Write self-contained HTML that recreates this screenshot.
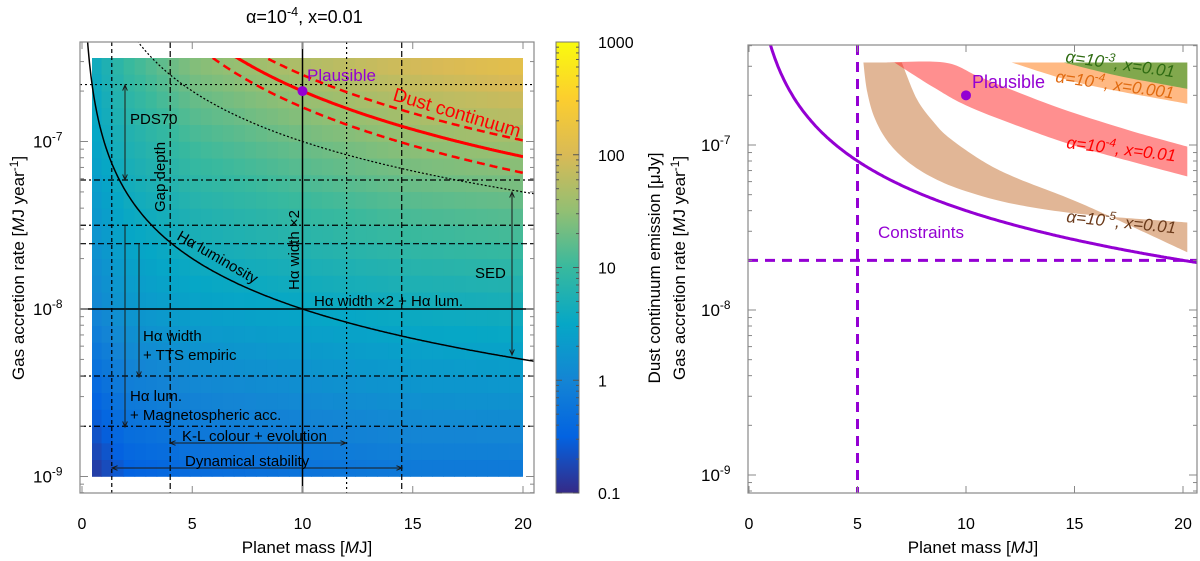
<!DOCTYPE html>
<html><head><meta charset="utf-8"><style>
html,body{margin:0;padding:0;background:#fff;}
svg{display:block;font-family:"Liberation Sans",sans-serif;}
</style></head><body>
<svg id="fig" width="1200" height="561" viewBox="0 0 1200 561" xmlns="http://www.w3.org/2000/svg">
<defs>
<clipPath id="clipL"><rect x="80" y="42" width="454" height="451"/></clipPath>
<clipPath id="clipR"><rect x="748" y="45" width="449" height="448"/></clipPath>
<clipPath id="clipHeat"><rect x="92" y="58" width="431" height="419"/></clipPath>
<linearGradient id="parula" x1="0" y1="1" x2="0" y2="0">
<stop offset="0" stop-color="#352A87"/><stop offset="0.125" stop-color="#0363E1"/>
<stop offset="0.25" stop-color="#1485D4"/><stop offset="0.375" stop-color="#06A7C6"/>
<stop offset="0.5" stop-color="#38B99E"/><stop offset="0.625" stop-color="#92BF73"/>
<stop offset="0.75" stop-color="#D9BA56"/><stop offset="0.875" stop-color="#FCCE2E"/>
<stop offset="1" stop-color="#F9FB0E"/>
</linearGradient>
</defs>
<g id="left"></g>
<g id="right"></g>
</svg>
<script>
// ---------- data ----------
const heatMasses = [0.5, 2, 5, 10, 15, 20];
const heatLogMdot = [-9, -8, -7, -6.5];
const heatRowM9 = [-0.9, -0.55, -0.4, -0.3, -0.2, -0.2];
const heatRowM8 = [0.0, 0.25, 0.4, 0.5, 0.6, 0.65];
const heatRowM7 = [0.45, 0.75, 1.05, 1.3, 1.5, 1.6];
const heatRowM65 = [0.6, 1.0, 1.45, 1.75, 2.0, 2.2];
const heatRows = [heatRowM9, heatRowM8, heatRowM7, heatRowM65];
const xTicks = [0, 5, 10, 15, 20];
const yDecades = [-9, -8, -7];
const cbTicks = ["0.1", "1", "10", "100", "1000"];
// curves Mdot = k * (M/mRef)^p
const haLumK = 1e-8, haLumP = -1;
const dottedK = 1e-7, dottedP = -1;
const dustK = [2.5e-7, 2e-7, 1.6e-7];
const dustP = -1.3;
const constraintK = 4e-8;
const vLines = [{m:1.35,d:"4,3"},{m:4.0,d:"6,3"},{m:12,d:"2,3"},{m:14.5,d:"6,3"}];
const hLines = [{l:-6.66,d:"2,3"},{l:-7.23,d:"6,3,2,3"},{l:-7.5,d:"6,3,2,3"},{l:-7.61,d:"6,3"},{l:-8.4,d:"6,3,2,3"},{l:-8.7,d:"6,3,2,3"}];
const plausibleM = 10, plausibleMdot = 2e-7;
const brownUpM = [5.27,5.45,5.8,6.4,7.3,8.5,10.0,12.3,15.4,20.2];
const brownUpL = [-6.5,-6.68,-6.84,-6.98,-7.1,-7.2,-7.28,-7.36,-7.42,-7.47];
const brownLoM = [7.04,7.73,8.5,9.26,10.8,12.33,15.4,20.2];
const brownLoL = [-6.5,-6.72,-6.86,-6.96,-7.1,-7.2,-7.36,-7.65];
const redUpM = [6.19,9.0,10.5,12.0,14.4,17.5,20.2];
const redUpL = [-6.5,-6.5,-6.58,-6.66,-6.78,-6.91,-7.01];
const redLoM = [6.7,8.5,10.0,12.3,15.4,20.2];
const redLoL = [-6.5,-6.65,-6.76,-6.88,-7.02,-7.19];
const orangeUpM = [12.1,20.2];
const orangeUpL = [-6.5,-6.5];
const orangeLoM = [12.1,15.4,20.2];
const orangeLoL = [-6.5,-6.63,-6.75];
const greenUpM = [14.5,20.2];
const greenUpL = [-6.5,-6.5];
const greenLoM = [14.5,17.0,20.2];
const greenLoL = [-6.5,-6.58,-6.66];
const constrM = 5, constrMdot = 2e-8;

// ---------- helpers ----------
const NS = "http://www.w3.org/2000/svg";
function mk(parent, tag, attrs, text){
  const e = document.createElementNS(NS, tag);
  for (const k in attrs) e.setAttribute(k, attrs[k]);
  if (text !== undefined) e.textContent = text;
  parent.appendChild(e); return e;
}
const parula = [[53,42,135],[3,99,225],[20,133,212],[6,167,198],[56,185,158],[146,191,115],[217,186,86],[252,206,46],[249,251,14]];
function cmap(t){
  t = Math.max(0, Math.min(1, t)); const s = t*8; const i = Math.min(7, Math.floor(s)); const f = s - i;
  const a = parula[i], b = parula[i+1];
  return "rgb(" + [0,1,2].map(j => Math.round(a[j]+(b[j]-a[j])*f)).join(",") + ")";
}
function interp1(xs, ys, x){
  if (x <= xs[0]) return ys[0];
  for (let i=1;i<xs.length;i++) if (x <= xs[i]) { const f=(x-xs[i-1])/(xs[i]-xs[i-1]); return ys[i-1]+(ys[i]-ys[i-1])*f; }
  return ys[ys.length-1];
}
function supText(g, x, y, base, sup, after, attrs, name){
  const t = mk(g, "text", Object.assign({x:x, y:y}, attrs));
  
  
  mk(t, "tspan", {}, base);
  mk(t, "tspan", {dy:-7, "font-size":"0.7em"}, sup);
  if (after) mk(t, "tspan", {dy:7}, after);
  return t;
}
function smoothPath(pts, move){
  // Catmull-Rom through points
  let d = (move?"M":"L")+pts[0][0].toFixed(1)+","+pts[0][1].toFixed(1);
  for (let i=0;i<pts.length-1;i++){
    const p0=pts[Math.max(0,i-1)], p1=pts[i], p2=pts[i+1], p3=pts[Math.min(pts.length-1,i+2)];
    const c1=[p1[0]+(p2[0]-p0[0])/6, p1[1]+(p2[1]-p0[1])/6];
    const c2=[p2[0]-(p3[0]-p1[0])/6, p2[1]-(p3[1]-p1[1])/6];
    d += "C"+c1.map(v=>v.toFixed(1)).join(",")+" "+c2.map(v=>v.toFixed(1)).join(",")+" "+p2.map(v=>v.toFixed(1)).join(",");
  }
  return d;
}

// ---------- LEFT ----------
const L = document.getElementById("left");
const XL = m => 82 + 22.05*m;
const YL = l => 309 - 167.5*(l+8);
const heat = mk(L, "g", {"clip-path":"url(#clipHeat)"});


for (let m=0.4; m<20.01; m+=0.5){
  for (let l=-9; l<-6.49; l+=0.1){
    const mc = m+0.25, lc = l+0.05;
    const col = heatRows.map(r => interp1(heatMasses, r, mc));
    const v = interp1(heatLogMdot, col, lc);
    const c = mk(heat, "rect", {x:XL(m)-0.3, y:YL(l+0.1)-0.3, width:22.05*0.5+0.6, height:16.75+0.6, fill:cmap((v+1)/4)});
    
    
  }
}
const lg = mk(L, "g", {"clip-path":"url(#clipL)", fill:"none"});
vLines.forEach(v=>{
  const e = mk(lg, "line", {x1:XL(v.m), x2:XL(v.m), y1:42, y2:493, stroke:"#000", "stroke-width":1.2, "stroke-dasharray":v.d});
  
  
});
hLines.forEach(h=>{
  const e = mk(lg, "line", {x1:80, x2:534, y1:YL(h.l), y2:YL(h.l), stroke:"#000", "stroke-width":1.2, "stroke-dasharray":h.d});
  
  
});
let e;
e = mk(lg, "line", {x1:XL(10), x2:XL(10), y1:42, y2:493, stroke:"#000", "stroke-width":1.5});
 
e = mk(lg, "line", {x1:80, x2:534, y1:YL(-8), y2:YL(-8), stroke:"#000", "stroke-width":1.5});
 
function curvePath(X, Y, k, p, m0, m1){
  let d = "";
  for (let i=0;i<=300;i++){ const m = m0+(m1-m0)*i/300; const l = Math.log10(k*Math.pow(m/10,p)); d += (i?"L":"M")+X(m).toFixed(1)+","+Y(l).toFixed(1); }
  return d;
}
e = mk(lg, "path", {d:curvePath(XL,YL,haLumK,haLumP,0.2,20.6), stroke:"#000", "stroke-width":1.5});
 
e = mk(lg, "path", {d:curvePath(XL,YL,dottedK,dottedP,2.0,20.6), stroke:"#000", "stroke-width":1.2, "stroke-dasharray":"2,2"});
 
const dg = mk(L, "g", {"clip-path":"url(#clipHeat)", fill:"none"});
dustK.forEach((k,i)=>{
  const p = mk(dg, "path", {d:curvePath(XL,YL,k,dustP,5,20), stroke:"#f00", "stroke-width":i==1?3:2.5, "stroke-dasharray":i==1?"none":"8,5"});
  
  
});
function arrow(g, x1,y1,x2,y2, both, name){
  const a = mk(g, "g", {stroke:"#1a1a1a", "stroke-width":1, fill:"none"});
   
  mk(a, "line", {x1:x1,y1:y1,x2:x2,y2:y2});
  const head = (xa,ya,xb,yb)=>{ const ang=Math.atan2(yb-ya,xb-xa); const s=6;
    mk(a,"path",{d:`M${xb-s*Math.cos(ang-0.4)},${yb-s*Math.sin(ang-0.4)}L${xb},${yb}L${xb-s*Math.cos(ang+0.4)},${yb-s*Math.sin(ang+0.4)}`}); };
  head(x1,y1,x2,y2); if (both) head(x2,y2,x1,y1);
}
arrow(L,125,85,125,180,true,'pds70-arrow');
arrow(L,139,243,139,377,false,'ha-width-arrow');
arrow(L,125,226,125,427,false,'ha-lum-arrow');
arrow(L,512,192,512,355,true,'sed-arrow');
arrow(L,170,443,346,443,true,'kl-colour-arrow');
arrow(L,112,468,402,468,true,'dynamical-stability-arrow');
e = mk(L, "circle", {cx:XL(plausibleM), cy:YL(Math.log10(plausibleMdot)), r:5, fill:"#9400d3"});
 
const ann = (x,y,txt,name,extra)=>{ const t = mk(L,"text",Object.assign({x:x,y:y,"font-size":15,fill:"#000"},extra||{}),txt);   return t; };
ann(307,81,"Plausible","plausible-label",{"font-size":17,fill:"#9400d3"});
ann(392,100,"Dust continuum","dust-continuum-label",{"font-size":19,fill:"#f00",transform:"rotate(16.5 392 100)"});
ann(130,124,"PDS70","pds70-label");
ann(165,212,"Gap depth","gap-depth-label",{transform:"rotate(-90 165 212)"});
ann(176,239,"Hα luminosity","ha-luminosity-label",{transform:"rotate(30 176 239)"});
ann(299,290,"Hα width ×2","ha-width-x2-label",{transform:"rotate(-90 299 290)"});
ann(475,278,"SED","sed-label");
ann(314,306,"Hα width ×2 + Hα lum.","ha-width-lum-label");
ann(143,341,"Hα width","ha-width-label");
ann(143,360,"+ TTS empiric","tts-empiric-label");
ann(130,401,"Hα lum.","ha-lum-label");
ann(130,420,"+ Magnetospheric acc.","magnetospheric-label");
ann(182,441,"K-L colour + evolution","kl-colour-label");
ann(185,466,"Dynamical stability","dynamical-stability-label");
function frame(g, x0,y0,x1,y1, X, Y, name){
  const f = mk(g,"rect",{x:x0,y:y0,width:x1-x0,height:y1-y0,fill:"none",stroke:"#888","stroke-width":1.2});
   
  const tg = mk(g,"g",{stroke:"#888","stroke-width":1});
  xTicks.forEach(m=>{ mk(tg,"line",{x1:X(m),x2:X(m),y1:y1,y2:y1-7}); mk(tg,"line",{x1:X(m),x2:X(m),y1:y0,y2:y0+7}); });
  for (let d=-10; d<=-6; d++) for (let k=1;k<10;k++){ const l=d+Math.log10(k); const y=Y(l); if (y<y0||y>y1) continue; const len=k==1?8:4;
    mk(tg,"line",{x1:x0,x2:x0+len,y1:y,y2:y}); mk(tg,"line",{x1:x1,x2:x1-len,y1:y,y2:y}); }
  xTicks.forEach(m=>{ const t=mk(g,"text",{x:X(m),y:529,"font-size":16,"text-anchor":"middle"},String(m));   });
  yDecades.forEach(d=>{ supText(g, x0-47, Y(d)+6, "10", String(d), null, {"font-size":17}, 'y-tick-label'); });
}
frame(L,80,42,534,493,XL,YL,'left-plot-frame');
supText(L, 246, 23, "α=10", "-4", ", x=0.01", {"font-size":18}, 'left-title');
let t;
t = mk(L,"text",{x:307,y:553,"font-size":17,"text-anchor":"middle"});  
mk(t,"tspan",{},"Planet mass ["); mk(t,"tspan",{"font-style":"italic"},"M"); mk(t,"tspan",{},"J]");
t = mk(L,"text",{x:24,y:268,"font-size":17,"text-anchor":"middle",transform:"rotate(-90 24 268)"});  
mk(t,"tspan",{},"Gas accretion rate ["); mk(t,"tspan",{"font-style":"italic"},"M"); mk(t,"tspan",{},"J year"); mk(t,"tspan",{dy:-6,"font-size":"0.7em"},"-1"); mk(t,"tspan",{dy:6},"]");
const cb = mk(L,"g",{});  
mk(cb,"rect",{x:556,y:42,width:23,height:451,fill:"url(#parula)",stroke:"#777","stroke-width":1});
cbTicks.forEach((s,i)=>{ const y = 493 - i*112.75;
  const tl = mk(cb,"text",{x:598,y:y+6,"font-size":16},s);  
  for (let k=1;k<10 && i<4;k++){ const yy = y - Math.log10(k)*112.75; mk(cb,"line",{x1:556,x2:k==1?562:559,y1:yy,y2:yy,stroke:"#555"}); mk(cb,"line",{x1:579,x2:k==1?573:576,y1:yy,y2:yy,stroke:"#555"}); }
});
t = mk(L,"text",{x:660,y:268,"font-size":17,"text-anchor":"middle",transform:"rotate(-90 660 268)"});  
mk(t,"tspan",{},"Dust continuum emission [μJy]");

// ---------- RIGHT ----------
const R = document.getElementById("right");
const XR = m => 749 + 21.7*m;
const YR = l => 310 - 165*(l+8);
const rg = mk(R,"g",{"clip-path":"url(#clipR)"});
function band(upM, upL, loM, loL, fill, op, name){
  const up = upM.map((m,i)=>[XR(m), YR(upL[i])]);
  const lo = loM.map((m,i)=>[XR(m), YR(loL[i])]).reverse();
  const d = smoothPath(up, true) + smoothPath(lo, false) + "Z";
  const p = mk(rg,"path",{d:d,fill:fill,"fill-opacity":op});
   
}
band(brownUpM,brownUpL,brownLoM,brownLoL,"#c87a40",0.55,'band-alpha1e-5');
band(redUpM,redUpL,redLoM,redLoL,"#ff2020",0.5,'band-alpha1e-4-x0.01');
band(orangeUpM,orangeUpL,orangeLoM,orangeLoL,"#ff8a30",0.6,'band-alpha1e-4-x0.001');
band(greenUpM,greenUpL,greenLoM,greenLoL,"#1a9a20",0.55,'band-alpha1e-3');
e = mk(rg,"path",{d:curvePath(XR,YR,constraintK,-1,0.8,20.8),fill:"none",stroke:"#9400d3","stroke-width":3});
 
e = mk(rg,"line",{x1:XR(constrM),x2:XR(constrM),y1:45,y2:493,stroke:"#9400d3","stroke-width":3,"stroke-dasharray":"10,7"});
 
e = mk(rg,"line",{x1:748,x2:1197,y1:YR(Math.log10(constrMdot)),y2:YR(Math.log10(constrMdot)),stroke:"#9400d3","stroke-width":3,"stroke-dasharray":"10,7"});
 
e = mk(R,"circle",{cx:XR(plausibleM),cy:YR(Math.log10(plausibleMdot)),r:5,fill:"#9400d3"});
 
t = mk(R,"text",{x:972,y:88,"font-size":18,fill:"#9400d3"},"Plausible");  
t = mk(R,"text",{x:878,y:238,"font-size":17,fill:"#9400d3"},"Constraints");  
supText(R,1065,62,"α=10","-3",", x=0.01",{"font-size":17,fill:"#2e6b12","font-style":"italic",transform:"rotate(8 1065 62)"},'label-alpha1e-3');
supText(R,1055,82,"α=10","-4",", x=0.001",{"font-size":17,fill:"#e06a10","font-style":"italic",transform:"rotate(8 1055 82)"},'label-alpha1e-4-x0.001');
supText(R,1066,148,"α=10","-4",", x=0.01",{"font-size":17,fill:"#ff0000","font-style":"italic",transform:"rotate(7 1066 148)"},'label-alpha1e-4-x0.01');
supText(R,1066,222,"α=10","-5",", x=0.01",{"font-size":17,fill:"#6b3a1a","font-style":"italic",transform:"rotate(6 1066 222)"},'label-alpha1e-5');
frame(R,748,45,1197,493,XR,YR,'right-plot-frame');
t = mk(R,"text",{x:973,y:553,"font-size":17,"text-anchor":"middle"});  
mk(t,"tspan",{},"Planet mass ["); mk(t,"tspan",{"font-style":"italic"},"M"); mk(t,"tspan",{},"J]");
t = mk(R,"text",{x:685,y:268,"font-size":17,"text-anchor":"middle",transform:"rotate(-90 685 268)"});  
mk(t,"tspan",{},"Gas accretion rate ["); mk(t,"tspan",{"font-style":"italic"},"M"); mk(t,"tspan",{},"J year"); mk(t,"tspan",{dy:-6,"font-size":"0.7em"},"-1"); mk(t,"tspan",{dy:6},"]");
</script>
</body></html>
